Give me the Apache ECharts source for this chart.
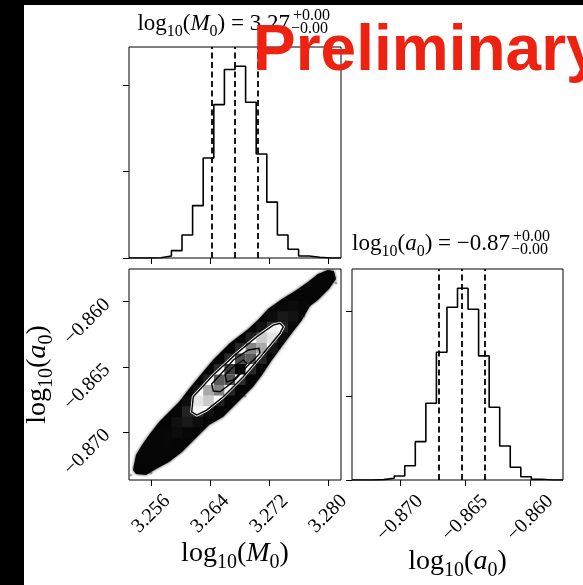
<!DOCTYPE html>
<html><head><meta charset="utf-8">
<script src="https://cdn.jsdelivr.net/npm/echarts@6/dist/echarts.min.js"></script>
<style>html,body{margin:0;padding:0;background:#fff}#c{width:583px;height:585px}</style>
</head><body><div id="c"></div>
<script>
// ---------------- data ----------------
const xRange = [3.25297, 3.28177];            // log10(M0) axis range
const yRange = [-0.87367, -0.85749];          // log10(a0) axis range
const xTicks = [3.256, 3.264, 3.272, 3.280];
const yTicks = [-0.870, -0.865, -0.860];
const histTicks = [0, 1000, 2000];
const m0Counts = [0,0,3,23,85,267,607,1158,1777,2184,2222,1804,1204,647,267,101,23,8,0,0];
const a0Counts = [0,0,4,20,48,170,455,911,1517,2051,2277,2027,1473,863,404,151,39,8,0,0];
const m0Quantiles = [3.26422, 3.26735, 3.27041];
const a0Quantiles = [-0.86701, -0.86524, -0.86350];
const m0Title = ['3.27', '+0.00', '\u22120.00'];
const a0Title = ['\u22120.87', '+0.00', '\u22120.00'];
// outline of the dense sample cloud (log10 M0, log10 a0)
const cloudOutline = [
  [3.25351,-0.87291],[3.25392,-0.87176],[3.25474,-0.87099],[3.25569,-0.87022],[3.25705,-0.86923],
  [3.25840,-0.86846],[3.25976,-0.86769],[3.26112,-0.86670],[3.26234,-0.86585],[3.26438,-0.86447],
  [3.26669,-0.86317],[3.26900,-0.86217],[3.27049,-0.86140],[3.27185,-0.86056],[3.27375,-0.85979],
  [3.27552,-0.85918],[3.27728,-0.85849],[3.27864,-0.85788],[3.28000,-0.85757],[3.28081,-0.85765],
  [3.28109,-0.85826],[3.28014,-0.85903],[3.27864,-0.85987],[3.27756,-0.86033],[3.27647,-0.86140],
  [3.27511,-0.86240],[3.27389,-0.86332],[3.27239,-0.86447],[3.27104,-0.86562],[3.26981,-0.86654],
  [3.26764,-0.86777],[3.26574,-0.86884],[3.26384,-0.86946],[3.26207,-0.87045],[3.26017,-0.87153],
  [3.25840,-0.87229],[3.25664,-0.87283],[3.25528,-0.87329],[3.25392,-0.87321]
];
// sparse samples at the tails
const strayPoints = [
  [3.25324,-0.87329],[3.25379,-0.87252],[3.25433,-0.87283],[3.25501,-0.87214],[3.25596,-0.87314],
  [3.25610,-0.87183],[3.27959,-0.85772],[3.28054,-0.85803],[3.28109,-0.85857],[3.27878,-0.85826],
  [3.27823,-0.85887],[3.27674,-0.86110],[3.25732,-0.87084],[3.26873,-0.86723]
];
// contours
const contourOuter = [
  [3.26149,-0.86844],[3.26170,-0.86729],[3.26442,-0.86562],[3.26760,-0.86396],[3.27032,-0.86268],
  [3.27257,-0.86179],[3.27348,-0.86166],[3.27393,-0.86192],[3.27348,-0.86242],[3.27121,-0.86396],
  [3.26850,-0.86575],[3.26578,-0.86729],[3.26352,-0.86831],[3.26217,-0.86869]
];
const contourMid = [
  [3.26442,-0.86685],[3.26420,-0.86631],[3.26533,-0.86562],[3.26714,-0.86447],[3.26917,-0.86370],
  [3.27063,-0.86357],[3.27076,-0.86396],[3.26896,-0.86498],[3.26714,-0.86614],[3.26533,-0.86690]
];
const contourInner = [
  [3.26624,-0.86614],[3.26601,-0.86562],[3.26714,-0.86498],[3.26850,-0.86447],[3.26896,-0.86472],
  [3.26805,-0.86549],[3.26714,-0.86600]
];
// 2D histogram cells (bin i along M0, bin j along a0, relative density)
const densityCells = [
  [3,3,1],[3,4,1],
  [4,4,3],[4,5,5],[4,6,1],
  [5,4,1],[5,5,9],[5,6,14],[5,7,4],
  [6,5,3],[6,6,22],[6,7,32],[6,8,8],
  [7,6,6],[7,7,45],[7,8,58],[7,9,13],
  [8,7,11],[8,8,70],[8,9,80],[8,10,17],
  [9,8,15],[9,9,82],[9,10,88],[9,11,18],
  [10,9,18],[10,10,100],[10,11,84],[10,12,16],
  [11,10,17],[11,11,80],[11,12,70],[11,13,11],
  [12,11,14],[12,12,58],[12,13,45],[12,14,6],
  [13,12,8],[13,13,33],[13,14,23],[13,15,3],
  [14,13,4],[14,14,14],[14,15,9],[14,16,1],
  [15,14,2],[15,15,6],[15,16,3],
  [16,16,1]
];
const nBins = 20;

// ---------------- helpers ----------------
const SERIF = '"Liberation Serif","DejaVu Serif",serif';
const fmt = v => v.toFixed(3).replace('-', '\u2212');
const dxBin = (xRange[1]-xRange[0])/nBins, dyBin = (yRange[1]-yRange[0])/nBins;
const hMax = Math.max(...densityCells.map(c=>c[2]));

function stepData(counts, lo, hi){
  const w = (hi-lo)/counts.length;
  const d = counts.map((c,k)=>[lo+k*w, c]);
  d.push([hi, counts[counts.length-1]]);
  return d;
}
function polySeries(pts, style, z){
  return {type:'custom', xAxisIndex:1, yAxisIndex:1, z, silent:true, clip:true,
    data:[[pts[0][0], pts[0][1]]],
    renderItem:(p, api)=>({type:'polygon', shape:{points: pts.map(q=>api.coord(q))}, style})};
}
// main glyphs hang from the line top, subscripts sit on the line bottom
const nameRich = {
  n:{fontFamily:SERIF, fontSize:28, lineHeight:33, verticalAlign:'top', color:'#000'},
  i:{fontFamily:SERIF, fontStyle:'italic', fontSize:28, lineHeight:33, verticalAlign:'top', color:'#000'},
  s:{fontFamily:SERIF, fontSize:20, lineHeight:33, verticalAlign:'bottom', color:'#000'}
};
const mathName = sym => `{n|log}{s|10}{n|(}{i|${sym}}{s|0}{n|)}`;
const titleRich = {
  n:{fontFamily:SERIF, fontSize:23, lineHeight:27, verticalAlign:'top', fill:'#000'},
  i:{fontFamily:SERIF, fontStyle:'italic', fontSize:23, lineHeight:27, verticalAlign:'top', fill:'#000'},
  s:{fontFamily:SERIF, fontSize:16, lineHeight:27, verticalAlign:'bottom', fill:'#000'}
};
const tickLbl = {fontFamily:SERIF, fontSize:20, color:'#000'};
const qLine = qs => ({silent:true, symbol:'none', precision:6, label:{show:false},
  lineStyle:{color:'#000', type:[6,3.5], width:1.8}, data: qs.map(q=>({xAxis:q}))});

function baseAxis(extra){
  return Object.assign({type:'value', axisLine:{show:false}, splitLine:{show:false},
    axisTick:{show:true, length:6, lineStyle:{color:'#000', width:1}}}, extra);
}

const chart = echarts.init(document.getElementById('c'), null, {renderer:'canvas'});
chart.setOption({
  animation:false,
  backgroundColor:'#fff',
  grid:[
    {left:129, top:47, width:212, height:211, show:true, borderColor:'#000', borderWidth:1, backgroundColor:'transparent'},
    {left:129, top:269, width:212, height:211, show:true, borderColor:'#000', borderWidth:1, backgroundColor:'transparent'},
    {left:352, top:269, width:211, height:211, show:true, borderColor:'#000', borderWidth:1, backgroundColor:'transparent'}
  ],
  xAxis:[
    baseAxis({gridIndex:0, min:xRange[0], max:xRange[1],
      axisTick:{show:true, length:6, customValues:xTicks, lineStyle:{color:'#000'}}, axisLabel:{show:false}}),
    baseAxis({gridIndex:1, min:xRange[0], max:xRange[1],
      axisTick:{show:true, length:6, customValues:xTicks, lineStyle:{color:'#000'}},
      axisLabel:Object.assign({show:true, customValues:xTicks, rotate:45, align:'center', verticalAlign:'middle', margin:34, formatter:fmt}, tickLbl),
      name:mathName('M'), nameLocation:'middle', nameGap:73, nameTextStyle:{rich:nameRich, verticalAlign:'middle'}}),
    baseAxis({gridIndex:2, min:yRange[0], max:yRange[1],
      axisTick:{show:true, length:6, customValues:yTicks, lineStyle:{color:'#000'}},
      axisLabel:Object.assign({show:true, customValues:yTicks, rotate:45, align:'center', verticalAlign:'middle', margin:38, formatter:fmt}, tickLbl),
      name:mathName('a'), nameLocation:'middle', nameGap:73, nameTextStyle:{rich:nameRich, verticalAlign:'middle'}})
  ],
  yAxis:[
    baseAxis({gridIndex:0, min:0, max:Math.max(...m0Counts)*1.1,
      axisTick:{show:true, length:6, customValues:histTicks, lineStyle:{color:'#000'}}, axisLabel:{show:false}}),
    baseAxis({gridIndex:1, min:yRange[0], max:yRange[1],
      axisTick:{show:true, length:6, customValues:yTicks, lineStyle:{color:'#000'}},
      axisLabel:Object.assign({show:true, customValues:yTicks, rotate:45, align:'right', verticalAlign:'middle', margin:22, formatter:fmt}, tickLbl),
      name:mathName('a'), nameLocation:'middle', nameGap:77, nameTextStyle:{rich:nameRich, verticalAlign:'middle'}}),
    baseAxis({gridIndex:2, min:0, max:Math.max(...a0Counts)*1.1,
      axisTick:{show:true, length:6, customValues:histTicks, lineStyle:{color:'#000'}}, axisLabel:{show:false}})
  ],
  series:[
    {type:'line', xAxisIndex:0, yAxisIndex:0, step:'end', symbol:'none', silent:true,
      data:stepData(m0Counts, xRange[0], xRange[1]), lineStyle:{color:'#000', width:1.6}, markLine:qLine(m0Quantiles)},
    {type:'line', xAxisIndex:2, yAxisIndex:2, step:'end', symbol:'none', silent:true,
      data:stepData(a0Counts, yRange[0], yRange[1]), lineStyle:{color:'#000', width:1.6}, markLine:qLine(a0Quantiles)},
    polySeries(cloudOutline, {fill:'#050505', shadowBlur:3, shadowColor:'rgba(0,0,0,0.8)'}, 1),
    {type:'scatter', xAxisIndex:1, yAxisIndex:1, z:1, silent:true, symbolSize:3,
      itemStyle:{color:'rgba(0,0,0,0.4)'}, data:strayPoints},
    polySeries(contourOuter, {fill:'#fff', stroke:'#fff', lineWidth:3, lineJoin:'round'}, 2),
    {type:'custom', xAxisIndex:1, yAxisIndex:1, z:3, silent:true, clip:true,
      data:densityCells.map(([i,j,h])=>[xRange[0]+(i+0.5)*dxBin, yRange[0]+(j+0.5)*dyBin, h]),
      renderItem:(p, api)=>{
        const cx = api.value(0), cy = api.value(1), h = api.value(2);
        const p0 = api.coord([cx-dxBin/2, cy+dyBin/2]), p1 = api.coord([cx+dxBin/2, cy-dyBin/2]);
        const t = 1 - h/hMax, g = Math.round(255*t);
        return {type:'rect', shape:{x:p0[0], y:p0[1], width:p1[0]-p0[0], height:p1[1]-p0[1]},
          style:{fill:`rgba(${g},${g},${g},${(1-t).toFixed(3)})`}};
      }},
    polySeries(contourOuter, {fill:'none', stroke:'#000', lineWidth:1.4, lineJoin:'miter'}, 4),
    polySeries(contourMid, {fill:'none', stroke:'#000', lineWidth:1.4}, 4),
    polySeries(contourInner, {fill:'none', stroke:'#000', lineWidth:1.4}, 4)
  ],
  graphic:[
    {type:'rect', z:200, silent:true, shape:{x:0, y:0, width:24, height:585}, style:{fill:'#000'}},
    {type:'rect', z:200, silent:true, shape:{x:0, y:0, width:583, height:5}, style:{fill:'#000'}},
    {type:'text', z:50, silent:true, x:290, y:39.5, style:{text:`{n|log}{s|10}{n|(}{i|M}{s|0}{n|) = ${m0Title[0]}}`, rich:titleRich, align:'right', verticalAlign:'bottom'}},
    {type:'text', z:50, silent:true, x:293, y:16, style:{text:m0Title[1], font:`16px ${SERIF}`, fill:'#000', align:'left', verticalAlign:'middle'}},
    {type:'text', z:50, silent:true, x:291, y:29, style:{text:m0Title[2], font:`16px ${SERIF}`, fill:'#000', align:'left', verticalAlign:'middle'}},
    {type:'text', z:50, silent:true, x:510, y:259.5, style:{text:`{n|log}{s|10}{n|(}{i|a}{s|0}{n|) = ${a0Title[0]}}`, rich:titleRich, align:'right', verticalAlign:'bottom'}},
    {type:'text', z:50, silent:true, x:513, y:237, style:{text:a0Title[1], font:`16px ${SERIF}`, fill:'#000', align:'left', verticalAlign:'middle'}},
    {type:'text', z:50, silent:true, x:511, y:250, style:{text:a0Title[2], font:`16px ${SERIF}`, fill:'#000', align:'left', verticalAlign:'middle'}},
    {type:'text', z:100, silent:true, x:253, y:52, style:{text:'Preliminary', font:`bold 64px "Liberation Sans", Arial, sans-serif`, fill:'#EE2211', align:'left', verticalAlign:'middle'}}
  ]
});
</script></body></html>
